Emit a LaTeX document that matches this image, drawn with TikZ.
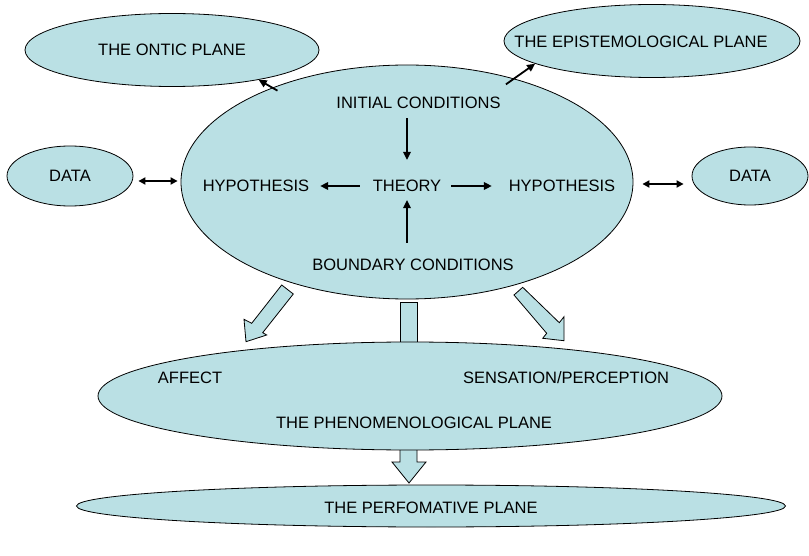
\documentclass[tikz,border=0pt]{standalone}
\usepackage{fontspec}
\setmainfont{Liberation Sans}
\usetikzlibrary{arrows.meta,shapes.geometric}
\definecolor{planefill}{RGB}{186,224,228}
\begin{document}
\begin{tikzpicture}[x=1pt,y=-1pt,
  plane/.style={ellipse, draw=black, line width=0.8pt, fill=planefill, inner sep=0pt},
  lbl/.style={inner sep=0pt, text height=11.8pt, text depth=0pt, font=\fontsize{16.5}{19}\selectfont},
  arr/.style={-{Triangle[length=8pt,width=7.5pt]}, line width=1.8pt},
  dbl/.style={{Triangle[length=7pt,width=7pt]}-{Triangle[length=7pt,width=7pt]}, line width=1.8pt},
  blk/.style={draw=black, line width=0.8pt, fill=planefill, line join=miter}]
\useasboundingbox (0,0) rectangle (809,556);

% outer planes
\node[plane, minimum width=294pt, minimum height=73pt] (ontic) at (172,50) {};
\node[lbl] (onticlbl) at (172,50) {THE ONTIC PLANE};
\node[plane, minimum width=296pt, minimum height=73pt] (epist) at (652,41) {};
\node[lbl] (epistlbl) at (641,42) {THE EPISTEMOLOGICAL PLANE};

% data
\node[plane, minimum width=126pt, minimum height=60pt] (dataL) at (70,176) {};
\node[lbl] (dataLlbl) at (70,176) {DATA};
\node[plane, minimum width=116pt, minimum height=58pt] (dataR) at (750,176) {};
\node[lbl] (dataRlbl) at (750,176) {DATA};

% theory core
\node[plane, minimum width=452pt, minimum height=234pt] (core) at (407,182) {};
\node[lbl] (init)   at (418.5,103) {INITIAL CONDITIONS};
\node[lbl] (theory) at (407,186) {THEORY};
\node[lbl] (hypL)   at (256,186) {HYPOTHESIS};
\node[lbl] (hypR)   at (562,186) {HYPOTHESIS};
\node[lbl] (bound)  at (413,265) {BOUNDARY CONDITIONS};

% links inside the core
\draw[arr, shorten <=9pt, shorten >=20pt] (init.south -| theory.north) -- (theory.north);
\draw[arr, shorten <=16pt, shorten >=8pt] (bound.north -| theory.south) -- (theory.south);
\draw[arr, shorten <=12.6pt, shorten >=10.8pt] (theory.west) -- (hypL.east);
\draw[arr, shorten <=9.6pt, shorten >=16.8pt] (theory.east) -- (hypR.west);

% links to the outer planes and data
\draw[arr, shorten <=-6pt] (core.145) -- (ontic.-19);
\draw[arr, shorten <=-10pt] (core.44) -- (epist.191);
\draw[dbl, shorten <=5pt, shorten >=3pt] ([yshift=-5pt]dataL.east) -- ([yshift=-5pt]dataL.east -| core.west);
\draw[dbl, shorten <=9pt, shorten >=8pt] ([yshift=-2pt]core.east) -- ([yshift=-2pt]core.east -| dataR.west);

% block arrows down to the phenomenological plane
\draw[blk] (281.7,285) -- (293.3,294) -- (262.7,332.7) -- (266.7,335) -- (246,341.7) -- (244,319.3) -- (251.7,323.3) -- cycle;
\draw[blk] (514,295) -- (522.7,287.3) -- (559.3,322.7) -- (564,316.7) -- (564,340.7) -- (542.7,338.3) -- (546.7,333.3) -- cycle;
\draw[blk] (400,302) rectangle (417,352);
\draw[blk] (400,440) -- (417,440) -- (417,462) -- (426,462) -- (409,483) -- (392,462) -- (400,462) -- cycle;

% phenomenological plane
\node[plane, minimum width=624pt, minimum height=108pt] (phen) at (410,396) {};
\node[lbl] (affect) at (190,378) {AFFECT};
\node[lbl] (sens)   at (566,378) {SENSATION/PERCEPTION};
\node[lbl] (phenlbl) at (414,423) {THE PHENOMENOLOGICAL PLANE};

% performative plane
\node[plane, minimum width=709pt, minimum height=42pt] (perf) at (431,506) {};
\node[lbl] (perflbl) at (431,508) {THE PERFOMATIVE PLANE};
\end{tikzpicture}
\end{document}
